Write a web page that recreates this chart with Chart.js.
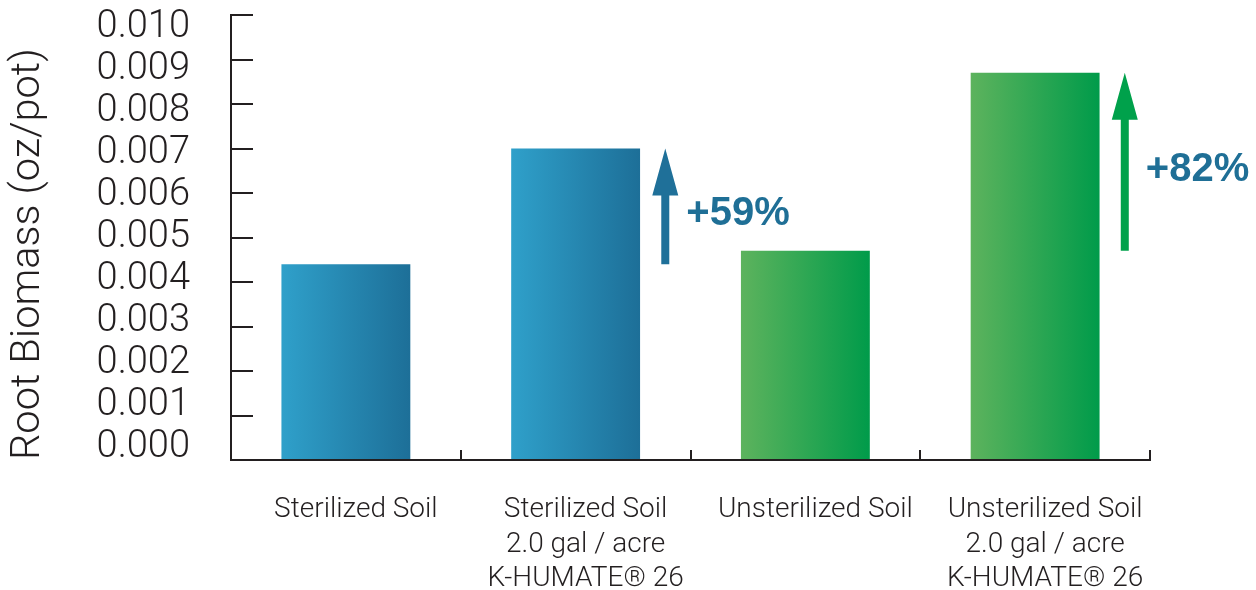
<!DOCTYPE html>
<html>
<head>
<meta charset="utf-8">
<script src="https://cdn.jsdelivr.net/npm/chart.js@4"></script>
<style>
  html, body { margin: 0; padding: 0; background: #ffffff; }
  #wrap { width: 1256px; height: 590px; }
</style>
</head>
<body>
<div id="wrap"><canvas id="c" width="1256" height="590"></canvas></div>
<script>
// ---- data ----
const categories = [
  ['Sterilized Soil'],
  ['Sterilized Soil', '2.0 gal / acre', 'K-HUMATE\u00AE 26'],
  ['Unsterilized Soil'],
  ['Unsterilized Soil', '2.0 gal / acre', 'K-HUMATE\u00AE 26']
];
const rootBiomass = [0.0044, 0.0070, 0.0047, 0.0087];
const yTickValues = [0, 0.001, 0.002, 0.003, 0.004, 0.005, 0.006, 0.007, 0.008, 0.009, 0.010];
const yTickLabels = ['0.000', '0.001', '0.002', '0.003', '0.004', '0.005', '0.006', '0.007', '0.008', '0.009', '0.010'];
const gradientStart = ['#2fa0ca', '#2fa0ca', '#5db35d', '#5db35d'];
const gradientEnd = ['#1d6f98', '#1d6f98', '#009b4a', '#009b4a'];
// increase annotations: from bar index -> to bar index
const increaseFrom = [0, 2];
const increaseTo = [1, 3];
const increaseLabels = ['+59%', '+82%'];
const arrowColors = ['#1f7099', '#00a14b'];
const increaseTextColor = '#1f6f96';

const INK = '#231f20';
const LIGHT = "'Roboto', 'Liberation Sans', sans-serif";

const gradientPlugin = {
  id: 'barGradient',
  beforeDatasetsDraw(chart) {
    const ctx = chart.ctx;
    const meta = chart.getDatasetMeta(0);
    meta.data.forEach((el, i) => {
      const left = el.x - el.width / 2;
      const right = el.x + el.width / 2;
      const g = ctx.createLinearGradient(left, 0, right, 0);
      g.addColorStop(0, gradientStart[i]);
      g.addColorStop(1, gradientEnd[i]);
      el.options.backgroundColor = g;
    });
  }
};

const arrowPlugin = {
  id: 'increaseArrows',
  afterDatasetsDraw(chart) {
    const ctx = chart.ctx;
    const xs = chart.scales.x;
    const ys = chart.scales.y;
    const meta = chart.getDatasetMeta(0);
    increaseTo.forEach((to, k) => {
      const el = meta.data[to];
      const barRight = el.x + el.width / 2;
      const boundary = xs.getPixelForValue(to + 0.5);
      const x = (barRight + boundary) / 2;
      const yBottom = ys.getPixelForValue(rootBiomass[increaseFrom[k]]);
      const yTop = ys.getPixelForValue(rootBiomass[to]);
      const headLen = 47, headHalf = 13, shaftHalf = 4;
      ctx.save();
      ctx.fillStyle = arrowColors[k];
      ctx.beginPath();
      ctx.moveTo(x - shaftHalf, yBottom);
      ctx.lineTo(x - shaftHalf, yTop + headLen);
      ctx.lineTo(x - headHalf, yTop + headLen);
      ctx.lineTo(x, yTop);
      ctx.lineTo(x + headHalf, yTop + headLen);
      ctx.lineTo(x + shaftHalf, yTop + headLen);
      ctx.lineTo(x + shaftHalf, yBottom);
      ctx.closePath();
      ctx.fill();
      ctx.fillStyle = increaseTextColor;
      ctx.font = "bold 40px 'Liberation Sans', Arial, sans-serif";
      ctx.textAlign = 'left';
      ctx.textBaseline = 'middle';
      ctx.fillText(increaseLabels[k], x + 21, (yTop + yBottom) / 2 + 8);
      ctx.restore();
    });
  }
};

function noPad(scale) {
  scale.paddingTop = 0;
  scale.paddingBottom = 0;
}

new Chart(document.getElementById('c'), {
  type: 'bar',
  data: {
    labels: categories,
    datasets: [{
      data: rootBiomass,
      backgroundColor: gradientStart,
      borderWidth: 0,
      barPercentage: 0.561,
      categoryPercentage: 1.0
    }]
  },
  options: {
    responsive: false,
    animation: false,
    devicePixelRatio: 1,
    layout: { padding: { top: 15, right: 106, bottom: 0, left: 0 } },
    plugins: { legend: { display: false }, tooltip: { enabled: false } },
    scales: {
      x: {
        type: 'category',
        offset: true,
        border: { display: true, color: INK, width: 2 },
        grid: {
          offset: true,
          drawOnChartArea: false,
          drawTicks: true,
          tickLength: -10,
          color: INK,
          lineWidth: 2
        },
        ticks: {
          color: INK,
          font: { family: LIGHT, size: 28, weight: '300', lineHeight: 1.23 },
          padding: 43,
          labelOffset: 10,
          maxRotation: 0,
          autoSkip: false
        },
        afterFit(scale) { scale.height = 130; scale.paddingLeft = 0; scale.paddingRight = 0; }
      },
      y: {
        type: 'linear',
        position: 'left',
        weight: 0,
        min: 0,
        max: 0.010,
        border: { display: true, color: INK, width: 2 },
        grid: {
          drawOnChartArea: false,
          drawTicks: true,
          tickLength: -22,
          color: INK,
          lineWidth: 2
        },
        ticks: { display: false },
        afterBuildTicks(scale) { scale.ticks = yTickValues.map(v => ({ value: v })); },
        afterFit(scale) { scale.width = 41; noPad(scale); }
      },
      yl: {
        type: 'linear',
        position: 'left',
        weight: 1,
        min: -0.00031,
        max: 0.01031,
        border: { display: false },
        grid: { display: false, drawTicks: false },
        ticks: {
          color: INK,
          padding: 0,
          autoSkip: false,
          font: { family: LIGHT, size: 38, weight: '300' },
          callback: (v, i) => yTickLabels[i]
        },
        afterBuildTicks(scale) { scale.ticks = yTickValues.map(v => ({ value: v })); },
        title: {
          display: true,
          text: 'Root Biomass (oz/pot)',
          align: 'start',
          color: INK,
          font: { family: LIGHT, size: 41.5, weight: '300' },
          padding: { top: 4, bottom: 4 }
        },
        afterFit(scale) { scale.width = 190; noPad(scale); }
      }
    }
  },
  plugins: [gradientPlugin, arrowPlugin]
});
</script>
</body>
</html>
